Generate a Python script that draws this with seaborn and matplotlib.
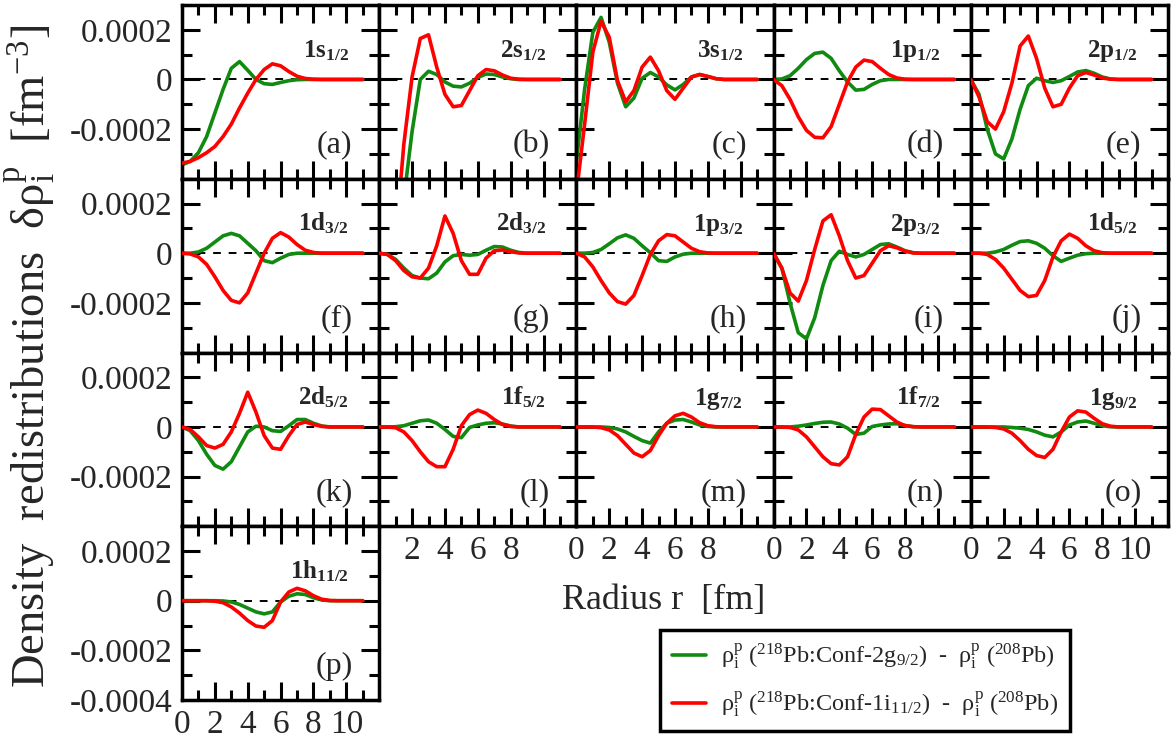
import matplotlib
matplotlib.use("Agg")
import matplotlib.pyplot as plt
import numpy as np
import seaborn as sns
from matplotlib.ticker import MultipleLocator
from matplotlib.lines import Line2D

# radius grid (fm), values in units of 1e-4 fm^-3
r = np.arange(0, 11.01, 0.5)

orbit_n = ['1s', '2s', '3s', '1p', '2p', '1d', '2d', '1p', '2p', '1d', '2d', '1f', '1g', '1f', '1g', '1h']
orbit_j = ['1/2', '1/2', '1/2', '1/2', '1/2', '3/2', '3/2', '3/2', '3/2', '5/2', '5/2', '5/2', '7/2', '7/2', '9/2', '11/2']
panel_tags = list('abcdefghijklmnop')

green_a = [-3.44, -3.3, -2.95, -2.3, -1.35, -0.4, 0.45, 0.72, 0.37, 0.0, -0.17, -0.2, -0.12, -0.05, -0.01, 0, 0, 0, 0, 0, 0, 0, 0]
red_a = [-3.37, -3.3, -3.15, -2.95, -2.7, -2.3, -1.8, -1.15, -0.55, 0.0, 0.4, 0.63, 0.55, 0.32, 0.13, 0.04, 0.01, 0, 0, 0, 0, 0, 0]
green_b = [-14, -12, -9, -4.8, -2.1, 0.0, 0.33, 0.2, -0.1, -0.27, -0.3, -0.15, 0.08, 0.22, 0.2, 0.1, 0.03, 0, 0, 0, 0, 0, 0]
red_b = [-12, -10, -6.5, -2.6, 0.1, 1.65, 1.8, 0.5, -0.6, -1.1, -1.05, -0.45, 0.15, 0.4, 0.35, 0.18, 0.05, 0.01, 0, 0, 0, 0, 0]
green_c = [-3.3, -0.4, 1.9, 2.5, 1.5, -0.15, -1.1, -0.75, 0.05, 0.28, 0.1, -0.22, -0.42, -0.2, 0.1, 0.2, 0.12, 0.03, 0, 0, 0, 0, 0]
red_c = [-4.6, -1.8, 1.1, 2.35, 1.7, -0.05, -0.9, -0.45, 0.5, 0.9, 0.35, -0.45, -0.8, -0.35, 0.1, 0.2, 0.12, 0.03, 0, 0, 0, 0, 0]
green_d = [0, 0.02, 0.15, 0.45, 0.8, 1.05, 1.1, 0.85, 0.35, -0.1, -0.43, -0.4, -0.2, -0.05, 0, 0, 0, 0, 0, 0, 0, 0, 0]
red_d = [0, -0.25, -0.8, -1.5, -2.05, -2.33, -2.35, -1.9, -1.0, -0.1, 0.5, 0.78, 0.72, 0.45, 0.2, 0.06, 0.01, 0, 0, 0, 0, 0, 0]
green_e = [0, -0.6, -2.0, -3.0, -3.2, -2.4, -1.2, -0.25, 0.05, -0.05, -0.12, -0.05, 0.12, 0.3, 0.36, 0.25, 0.1, 0.02, 0, 0, 0, 0, 0]
red_e = [0, -0.7, -1.7, -2.0, -1.3, -0.15, 1.35, 1.75, 0.85, -0.35, -1.1, -1.0, -0.35, 0.15, 0.28, 0.18, 0.06, 0.01, 0, 0, 0, 0, 0]
green_f = [0, 0, 0.05, 0.2, 0.45, 0.7, 0.8, 0.7, 0.4, 0.1, -0.3, -0.38, -0.2, -0.05, 0, 0, 0, 0, 0, 0, 0, 0, 0]
red_f = [0, -0.03, -0.15, -0.45, -0.95, -1.5, -1.9, -2.0, -1.6, -0.8, 0.0, 0.6, 0.83, 0.65, 0.35, 0.12, 0.03, 0, 0, 0, 0, 0, 0]
green_g = [0, -0.05, -0.25, -0.6, -0.9, -1.0, -1.03, -0.8, -0.35, -0.1, -0.05, -0.08, -0.05, 0.12, 0.27, 0.25, 0.12, 0.03, 0, 0, 0, 0, 0]
red_g = [0, -0.05, -0.3, -0.7, -0.95, -1.0, -0.6, 0.3, 1.5, 0.8, -0.3, -0.85, -0.85, -0.2, 0.1, 0.13, 0.06, 0.01, 0, 0, 0, 0, 0]
green_h = [0, 0, 0.03, 0.15, 0.38, 0.62, 0.74, 0.6, 0.3, 0.02, -0.3, -0.33, -0.15, -0.04, 0, 0, 0, 0, 0, 0, 0, 0, 0]
red_h = [0, -0.15, -0.55, -1.1, -1.6, -1.95, -2.05, -1.7, -0.9, -0.05, 0.5, 0.75, 0.7, 0.45, 0.2, 0.06, 0.01, 0, 0, 0, 0, 0, 0]
green_i = [0, -0.6, -2.0, -3.2, -3.45, -2.6, -1.3, -0.3, 0.08, -0.05, -0.15, -0.05, 0.15, 0.35, 0.38, 0.25, 0.1, 0.02, 0, 0, 0, 0, 0]
red_i = [0, -0.6, -1.6, -1.93, -1.1, 0.15, 1.3, 1.55, 0.7, -0.3, -1.0, -0.9, -0.4, 0.1, 0.3, 0.22, 0.08, 0.01, 0, 0, 0, 0, 0]
green_j = [0, 0, 0, 0.05, 0.15, 0.32, 0.47, 0.5, 0.4, 0.2, -0.1, -0.33, -0.2, -0.08, -0.02, 0, 0, 0, 0, 0, 0, 0, 0]
red_j = [0, 0, -0.05, -0.25, -0.6, -1.05, -1.5, -1.75, -1.7, -1.1, -0.15, 0.5, 0.77, 0.6, 0.3, 0.1, 0.02, 0, 0, 0, 0, 0, 0]
green_k = [0, -0.15, -0.55, -1.1, -1.55, -1.7, -1.4, -0.8, -0.2, 0.03, 0.0, -0.15, -0.18, 0.05, 0.3, 0.3, 0.15, 0.04, 0, 0, 0, 0, 0]
red_k = [0, -0.1, -0.4, -0.75, -0.85, -0.7, -0.2, 0.55, 1.4, 0.6, -0.35, -0.85, -0.9, -0.35, 0.1, 0.2, 0.1, 0.02, 0, 0, 0, 0, 0]
green_l = [0, 0, 0.01, 0.05, 0.15, 0.25, 0.28, 0.15, -0.1, -0.38, -0.43, -0.02, 0.08, 0.15, 0.17, 0.12, 0.04, 0, 0, 0, 0, 0, 0]
red_l = [0, 0, -0.03, -0.2, -0.55, -1.0, -1.4, -1.6, -1.6, -0.9, 0.05, 0.5, 0.68, 0.55, 0.3, 0.1, 0.02, 0, 0, 0, 0, 0, 0]
green_m = [0, 0, 0, 0, -0.02, -0.08, -0.2, -0.38, -0.55, -0.65, -0.2, 0.15, 0.28, 0.3, 0.2, 0.08, 0.02, 0, 0, 0, 0, 0, 0]
red_m = [0, 0, 0, -0.03, -0.12, -0.35, -0.7, -1.05, -1.2, -0.95, -0.35, 0.15, 0.45, 0.55, 0.4, 0.17, 0.05, 0.01, 0, 0, 0, 0, 0]
green_n = [0, 0, 0, 0.03, 0.08, 0.14, 0.19, 0.2, 0.12, -0.05, -0.3, -0.25, 0.02, 0.08, 0.12, 0.13, 0.06, 0.01, 0, 0, 0, 0, 0]
red_n = [0, 0, -0.02, -0.12, -0.4, -0.8, -1.2, -1.48, -1.53, -1.2, -0.3, 0.4, 0.72, 0.7, 0.45, 0.2, 0.05, 0.01, 0, 0, 0, 0, 0]
green_o = [0, 0, 0, 0, 0, -0.02, -0.05, -0.1, -0.2, -0.33, -0.4, -0.2, 0.08, 0.2, 0.24, 0.15, 0.05, 0.01, 0, 0, 0, 0, 0]
red_o = [0, 0, 0, -0.02, -0.08, -0.25, -0.55, -0.9, -1.15, -1.23, -0.9, -0.2, 0.4, 0.65, 0.6, 0.35, 0.13, 0.03, 0, 0, 0, 0, 0]
green_p = [0, 0, 0, 0, 0, -0.01, -0.05, -0.15, -0.3, -0.45, -0.53, -0.45, -0.05, 0.18, 0.28, 0.25, 0.12, 0.03, 0, 0, 0, 0, 0]
red_p = [0, 0, 0, 0, -0.02, -0.08, -0.25, -0.5, -0.8, -1.02, -1.07, -0.8, -0.05, 0.35, 0.5, 0.4, 0.2, 0.06, 0.01, 0, 0, 0, 0]

greens = [green_a, green_b, green_c, green_d, green_e, green_f, green_g, green_h,
          green_i, green_j, green_k, green_l, green_m, green_n, green_o, green_p]
reds = [red_a, red_b, red_c, red_d, red_e, red_f, red_g, red_h,
        red_i, red_j, red_k, red_l, red_m, red_n, red_o, red_p]

legend_labels = [
    "ρ$^{\\mathrm{p}}_{\\mathrm{i}}$ ($^{218}$Pb:Conf-2g$_{9/2}$)  -  ρ$^{\\mathrm{p}}_{\\mathrm{i}}$ ($^{208}$Pb)",
    "ρ$^{\\mathrm{p}}_{\\mathrm{i}}$ ($^{218}$Pb:Conf-1i$_{11/2}$)  -  ρ$^{\\mathrm{p}}_{\\mathrm{i}}$ ($^{208}$Pb)",
]

GREEN = '#108a10'
RED = '#ff0000'

sns.set_style('ticks')
plt.rcParams['font.family'] = ['Liberation Serif', 'DejaVu Serif']
plt.rcParams['mathtext.fontset'] = 'custom'
plt.rcParams['mathtext.rm'] = 'Liberation Serif'
plt.rcParams['mathtext.it'] = 'Liberation Serif:italic'
plt.rcParams['mathtext.bf'] = 'Liberation Serif:bold'

W, H = 1172, 745
fig = plt.figure(figsize=(W / 100, H / 100), dpi=100)
gs = fig.add_gridspec(4, 5, left=182 / W, right=1168 / W, top=1 - 5 / H, bottom=1 - 700 / H,
                      hspace=0, wspace=0)

for k in range(16):
    row, col = divmod(k, 5)
    ax = fig.add_subplot(gs[row, col])
    ax.axhline(0, color='black', lw=1.4, ls=(0, (4, 4)), zorder=1)
    sns.lineplot(x=r, y=np.array(greens[k]) * 1e-4, color=GREEN, lw=2.6, ax=ax,
                 estimator=None, sort=False, zorder=2)
    sns.lineplot(x=r, y=np.array(reds[k]) * 1e-4, color=RED, lw=2.6, ax=ax,
                 estimator=None, sort=False, zorder=3)
    ax.set_xlim(0, 12)
    ax.set_ylim(-0.0004, 0.0003)
    ax.set_xlabel('')
    ax.set_ylabel('')
    ax.set_xticks([0, 2, 4, 6, 8, 10, 12])
    ax.xaxis.set_minor_locator(MultipleLocator(1))
    ax.set_yticks([-0.0004, -0.0002, 0, 0.0002])
    ax.yaxis.set_minor_locator(MultipleLocator(0.0001))
    ax.tick_params(which='both', direction='in', top=True, right=True, width=2.2,
                   labelsize=24, color='black')
    ax.tick_params(which='major', length=13, pad=7)
    ax.tick_params(which='minor', length=7)
    for s in ax.spines.values():
        s.set_linewidth(2.5)
        s.set_color('black')

    # y tick labels only on the first column
    if col == 0:
        bottom = '-0.0004' if row == 3 else ''
        ax.set_yticklabels([bottom, '-0.0002', '0', '0.0002'])
    else:
        ax.set_yticklabels([])

    # x tick labels only on the lowest panel of each column
    if row == 3:
        ax.set_xticklabels(['0', '2', '4', '6', '8', '10', ''])
    elif row == 2 and col > 0:
        labs = ['0', '2', '4', '6', '8', '', '']
        if col == 1:
            labs[0] = ''
        if col == 4:
            labs[5] = '10'
        ax.set_xticklabels(labs)
    else:
        ax.set_xticklabels([])

    ax.text(0.845, 0.70, r"$\mathbf{%s}_{\mathbf{%s}}$" % (orbit_n[k], orbit_j[k]),
            transform=ax.transAxes, ha='right', va='baseline', fontsize=18)
    ax.text(0.865, 0.15, '(%s)' % panel_tags[k], transform=ax.transAxes,
            ha='right', va='baseline', fontsize=23)

fig.text(30 / W, 1 - 356 / H,
         "Density  redistributions  δρ$^{\\mathrm{p}}_{\\mathrm{i}}$  [fm$^{-3}$]",
         rotation=90, ha='center', va='center', fontsize=33.5)
fig.text(562 / W, 1 - 600 / H, 'Radius r  [fm]', ha='left', va='center', fontsize=26)

handles = [Line2D([], [], color=GREEN, lw=2.6), Line2D([], [], color=RED, lw=2.6)]
leg = fig.legend(handles, legend_labels, loc='upper left', bbox_to_anchor=(660 / W, 1 - 630 / H),
                 borderaxespad=0, fontsize=17.5, frameon=True, fancybox=False, edgecolor='black',
                 framealpha=1, handlelength=1.4, handletextpad=0.6, borderpad=0.5, labelspacing=0.75)
leg.get_frame().set_linewidth(2.5)

fig.savefig('out.png', dpi=100)
